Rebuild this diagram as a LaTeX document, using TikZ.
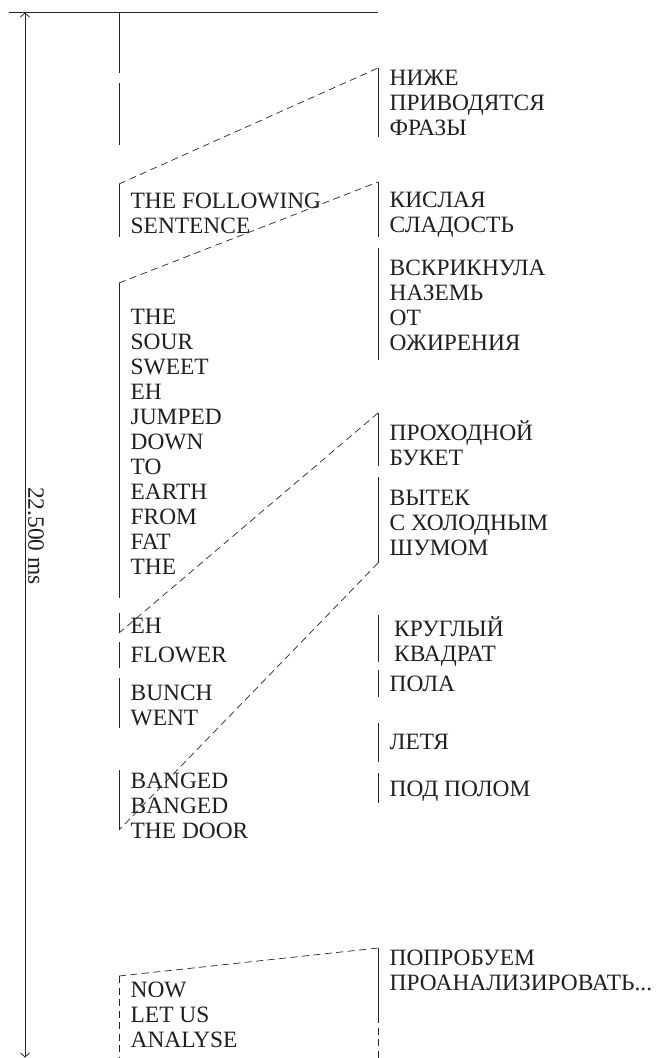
\documentclass[tikz,border=0pt]{standalone}
\usepackage{fontspec}
\setmainfont{Liberation Serif}
\usetikzlibrary{arrows.meta}
% text face of the two streams: fixed 25pt line pitch
\newcommand\wordfont{\fontsize{23.4}{25}\selectfont\lineskiplimit=-40pt\relax}
\tikzset{
  bar/.style={line width=0.8pt, draw=black!85},
  link/.style={line width=0.7pt, draw=black!85, dash pattern=on 7pt off 4.5pt},
  words/.style={anchor=north west, inner sep=0pt, align=left, text=black!88,
    font=\wordfont},
  span/.style={bar, >={Straight Barb[length=4pt,width=9pt]}, <->}
}
% first-line strut: fixes the top of every block 20pt above its first baseline
\newcommand\fst{\rule{0pt}{20pt}}
\begin{document}
\begin{tikzpicture}[x=1pt,y=-1pt]
\useasboundingbox (0,0) rectangle (661,1058);

% ---- time axis ----
\coordinate (ruleL) at (9,12);
\coordinate (ruleR) at (378,12);
\draw[bar] (ruleL) -- (ruleR);
\coordinate (tTop) at (25,12.5);
\coordinate (tBot) at (25,1057.5);
\draw[span] (tTop) -- (tBot);
\node[rotate=-90, inner sep=0pt, text=black!88, font=\wordfont] (dur) at (36,536) {22.500 ms};

% ---- left-hand brackets (x = 119) ----
\foreach \n/\a/\b in {L0/12/73, L0b/83/145, L1/184/237, L2/283/598, L3/613/633,
                      L4/642/668, L5/678/728, L6/770/830} {
  \coordinate (\n t) at (119,\a);
  \coordinate (\n b) at (119,\b);
  \draw[bar] (\n t) -- (\n b);
}
\coordinate (L7t) at (119,976);
\coordinate (L7b) at (119,1058);
\draw[link] (L7t) -- (L7b);

% ---- right-hand brackets (x = 378) ----
\foreach \n/\a/\b in {R1/68/137, R2/182/237, R3/248/360, R4/413/466, R5/477/563,
                      R6/615/662, R7/670/697, R8/723/762, R9/773/803} {
  \coordinate (\n t) at (378,\a);
  \coordinate (\n b) at (378,\b);
  \draw[bar] (\n t) -- (\n b);
}
\coordinate (R10t) at (378,948);
\coordinate (R10m) at (378,1016);
\coordinate (R10b) at (378,1058);
\draw[bar] (R10t) -- (R10m);
\draw[link] (R10m) -- (R10b);

% ---- dashed correspondences ----
\draw[link] (L1t) -- (R1t);
\draw[link] (L2t) -- (R2t);
\draw[link] (R4t) -- (L3b);
\draw[link] (R5b) -- (L6b);
\draw[link] (L7t) -- (R10t);

% ---- English stream ----
\node[words] (e1) at (130.5,188) {\fst THE FOLLOWING\\SENTENCE};
\node[words] (e2) at (130.5,304) {\fst THE\\SOUR\\SWEET\\EH\\JUMPED\\DOWN\\TO\\EARTH\\FROM\\FAT\\THE};
\node[words] (e3) at (130.5,613) {\fst EH};
\node[words] (e4) at (130.5,642) {\fst FLOWER};
\node[words] (e5) at (130.5,680) {\fst BUNCH\\WENT};
\node[words] (e6) at (130.5,768) {\fst BANGED\\BANGED\\THE DOOR};
\node[words] (e7) at (130.5,977) {\fst NOW\\LET US\\ANALYSE};

% ---- Russian stream ----
\node[words] (r1) at (389.5,65) {\fst НИЖЕ\\ПРИВОДЯТСЯ\\ФРАЗЫ};
\node[words] (r2) at (389.5,187) {\fst КИСЛАЯ\\СЛАДОСТЬ};
\node[words] (r3) at (389.5,255) {\fst ВСКРИКНУЛА\\НАЗЕМЬ\\ОТ\\ОЖИРЕНИЯ};
\node[words] (r4) at (389.5,420) {\fst ПРОХОДНОЙ\\БУКЕТ};
\node[words] (r5) at (389.5,485) {\fst ВЫТЕК\\С ХОЛОДНЫМ\\ШУМОМ};
\node[words] (r6) at (394,616) {\fst КРУГЛЫЙ\\КВАДРАТ};
\node[words] (r7) at (389.5,671) {\fst ПОЛА};
\node[words] (r8) at (389.5,729) {\fst ЛЕТЯ};
\node[words] (r9) at (389.5,776) {\fst ПОД ПОЛОМ};
\node[words] (r10) at (389.5,945) {\fst ПОПРОБУЕМ\\ПРОАНАЛИЗИРОВАТЬ...};
\end{tikzpicture}
\end{document}
